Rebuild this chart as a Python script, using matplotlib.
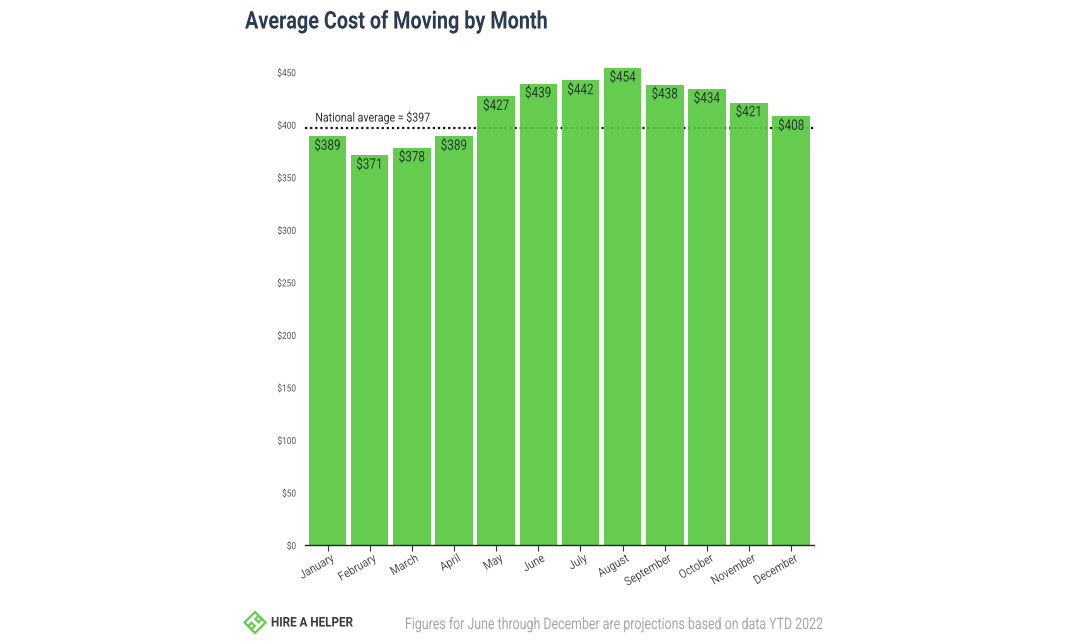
import matplotlib
matplotlib.use("Agg")
import matplotlib.pyplot as plt
from matplotlib.patches import Polygon
from matplotlib.patheffects import AbstractPathEffect
from matplotlib.transforms import Affine2D, ScaledTranslation

months = ["January", "February", "March", "April", "May", "June", "July",
          "August", "September", "October", "November", "December"]
costs = [389, 371, 378, 389, 427, 439, 442, 454, 438, 434, 421, 408]
yticks = [0, 50, 100, 150, 200, 250, 300, 350, 400, 450]
national_avg = 397

plt.rcParams["font.family"] = ["Roboto", "DejaVu Sans"]


class Condense(AbstractPathEffect):
    """Draw real text horizontally condensed (no Roboto Condensed installed)."""

    def __init__(self, sx, align="left"):
        super().__init__()
        self.sx, self.align = sx, align

    def draw_path(self, renderer, gc, tpath, affine, rgbFace=None):
        w = tpath.get_extents().x1
        shift = {"left": 0, "center": 0.5, "right": 1}[self.align] * w * (1 - self.sx)
        renderer.draw_path(gc, tpath, Affine2D().scale(self.sx, 1).translate(shift, 0) + affine, rgbFace)


W, H = 1067, 641
fig = plt.figure(figsize=(W / 100, H / 100), dpi=100)
L, R, B, T = 305, 814, 545, 60
ax = fig.add_axes([L / W, 1 - B / H, (R - L) / W, (B - T) / H])

GREEN = "#5ac842"
TXT = "#333333"
ax.axhline(national_avg, color="#111111", lw=1.6, ls=(0, (1, 1.3)), zorder=1)
ax.bar(range(12), costs, width=0.89, color=GREEN, alpha=0.93, lw=0, zorder=2)
for i, v in enumerate(costs):
    ax.text(i, v - 2.6, f"${v}", ha="center", va="top", fontsize=10.5,
            color="#1f3d2a", zorder=3, path_effects=[Condense(0.8, "center")])
ax.text(-0.29, national_avg + 3, f"National average = ${national_avg}", fontsize=9,
        color=TXT, ha="left", va="bottom", zorder=3, path_effects=[Condense(0.85)])

ax.set_xlim(-0.534, 11.54)
ax.set_ylim(0, (B - T) / 1.051)
ax.set_yticks(yticks, [f"${v}" for v in yticks], fontsize=7, color="#555555")
ax.set_xticks(range(12), months, rotation=30, ha="right", rotation_mode="anchor",
              fontsize=8.8, color="#555555")
ax.tick_params(axis="y", length=0, pad=6.5)
ax.tick_params(axis="x", length=4, width=0.8, color="#333333", pad=4)
for lab in ax.get_yticklabels():
    lab.set_path_effects([Condense(0.85, "right")])
shift = ScaledTranslation(2.5 / 100, 4.5 / 100, fig.dpi_scale_trans)
for lab in ax.get_xticklabels():
    lab.set_path_effects([Condense(0.87, "right")])
    lab.set_transform(lab.get_transform() + shift)
for s in ["top", "left", "right"]:
    ax.spines[s].set_visible(False)
ax.spines["bottom"].set_color("#222222")
ax.spines["bottom"].set_linewidth(1)


def px(x, y):
    return x / W, 1 - y / H


fig.text(*px(245, 22), "Average Cost of Moving by Month", fontsize=17.5, fontweight="bold",
         color="#2b3b52", ha="left", va="center", path_effects=[Condense(0.815)])
fig.text(*px(405, 624), "Figures for June through December are projections based on data YTD 2022",
         fontsize=11.5, color="#a8a8a8", ha="left", va="center", path_effects=[Condense(0.775)])
fig.text(*px(271, 623), "HIRE A HELPER", fontsize=9.6, fontweight="bold",
         color="#3a3a3a", ha="left", va="center", path_effects=[Condense(0.875)])

# logo: outlined diamond with two inner diamonds
cx, cy = 255, 622.5
for dx, dy, r in [(0, 0, 10.5), (-3.5, 3.5, 3.2), (3.5, -3.5, 3.2)]:
    pts = [px(cx + dx, cy + dy - r), px(cx + dx + r, cy + dy),
           px(cx + dx, cy + dy + r), px(cx + dx - r, cy + dy)]
    fig.add_artist(Polygon(pts, closed=True, transform=fig.transFigure,
                           fc="none", ec="#66cc4f", lw=1.6))

fig.savefig("out.png", dpi=100)
